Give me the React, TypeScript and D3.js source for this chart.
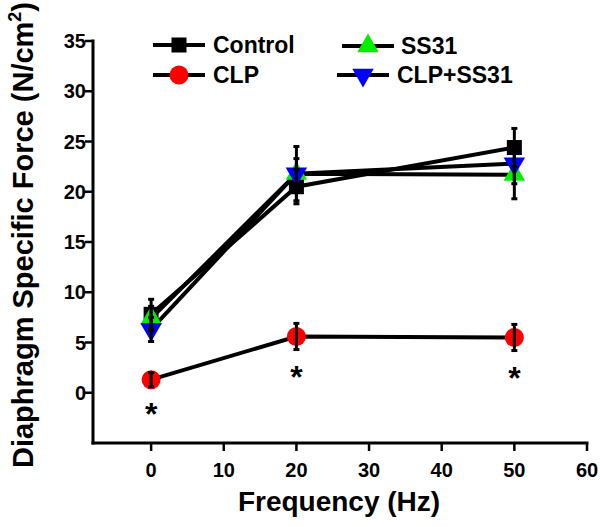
import React from "react";
import * as d3 from "d3";

const frequencies = [0, 20, 50];
const controlMean = [7.8, 20.5, 24.4];
const controlErr = [1.5, 1.7, 1.9];
const clpMean = [1.3, 5.6, 5.5];
const clpErr = [0.7, 1.3, 1.3];
const ss31Mean = [7.4, 21.8, 21.7];
const ss31Err = [1.2, 2.7, 2.4];
const clpSs31Mean = [6.3, 21.8, 22.8];
const clpSs31Err = [1.2, 1.5, 2.0];
const xTicks = [0, 10, 20, 30, 40, 50, 60];
const yTicks = [0, 5, 10, 15, 20, 25, 30, 35];
const significant = [true, true, true];

type Series = { name: string; mean: number[]; err: number[]; shape: string; color: string };
const seriesList: Series[] = [
  { name: "Control", mean: controlMean, err: controlErr, shape: "square", color: "#000000" },
  { name: "CLP", mean: clpMean, err: clpErr, shape: "circle", color: "#ff0000" },
  { name: "SS31", mean: ss31Mean, err: ss31Err, shape: "up", color: "#00ee00" },
  { name: "CLP+SS31", mean: clpSs31Mean, err: clpSs31Err, shape: "down", color: "#0000ff" },
];

const W = 600;
const H = 527;
const x = d3.scaleLinear().domain([-8, 60]).range([93, 587]);
const y = d3.scaleLinear().domain([-5, 35]).range([443, 41]);
const FONT = "'Liberation Sans', Arial, sans-serif";

function Marker({ shape, color, cx, cy }: { shape: string; color: string; cx: number; cy: number }) {
  if (shape === "square") return <rect x={cx - 7.5} y={cy - 7.5} width={15} height={15} fill={color} />;
  if (shape === "circle") return <circle cx={cx} cy={cy} r={9.5} fill={color} />;
  const sym = d3.symbol().type(d3.symbolTriangle).size(200)();
  return (
    <path d={sym || ""} fill={color} transform={`translate(${cx},${cy}) ${shape === "down" ? "rotate(180)" : ""}`} />
  );
}

export default function App() {
  const line = d3
    .line<[number, number]>()
    .x((d) => x(d[0]))
    .y((d) => y(d[1]));

  const legend = [
    { s: seriesList[0], lx: 153, ly: 45, tx: 213 },
    { s: seriesList[1], lx: 153, ly: 75, tx: 213 },
    { s: seriesList[2], lx: 342, ly: 46, tx: 401 },
    { s: seriesList[3], lx: 337, ly: 75, tx: 397 },
  ];

  return (
    <svg width={W} height={H} style={{ position: "absolute", left: 0, top: 0, background: "#fff" }} fontFamily={FONT}>
      {/* axes */}
      <line x1={x(-8)} x2={x(60)} y1={y(-5)} y2={y(-5)} stroke="#000" strokeWidth={3} strokeLinecap="square" />
      <line x1={x(-8)} x2={x(-8)} y1={y(-5)} y2={y(35)} stroke="#000" strokeWidth={3} strokeLinecap="square" />
      {xTicks.map((t) => (
        <g key={"xt" + t}>
          <line x1={x(t)} x2={x(t)} y1={y(-5)} y2={y(-5) + 8} stroke="#000" strokeWidth={2.5} />
          <text x={x(t)} y={477} textAnchor="middle" fontSize={20} fontWeight="bold">
            {t}
          </text>
        </g>
      ))}
      {yTicks.map((t) => (
        <g key={"yt" + t}>
          <line x1={x(-8) - 8} x2={x(-8)} y1={y(t)} y2={y(t)} stroke="#000" strokeWidth={2.5} />
          <text x={86} y={y(t) + 7} textAnchor="end" fontSize={20} fontWeight="bold">
            {t}
          </text>
        </g>
      ))}
      <text x={339} y={511} textAnchor="middle" fontSize={28} fontWeight="bold">
        Frequency (Hz)
      </text>
      <text transform={`translate(33,235) rotate(-90)`} textAnchor="middle" fontSize={29} fontWeight="bold">
        Diaphragm Specific Force (N/cm
        <tspan dy={-12} fontSize={18}>2</tspan>
        <tspan dy={12}>)</tspan>
      </text>

      {/* lines */}
      {seriesList.map((s) => (
        <path
          key={"l" + s.name}
          d={line(frequencies.map((f, i) => [f, s.mean[i]] as [number, number])) || ""}
          fill="none"
          stroke="#000"
          strokeWidth={4}
        />
      ))}
      {/* markers */}
      {seriesList.map((s) =>
        frequencies.map((f, i) => (
          <Marker key={"m" + s.name + i} shape={s.shape} color={s.color} cx={x(f)} cy={y(s.mean[i])} />
        ))
      )}
      {/* error bars */}
      {seriesList.map((s) =>
        frequencies.map((f, i) => (
          <g key={"e" + s.name + i}>
            <line x1={x(f)} x2={x(f)} y1={y(s.mean[i] - s.err[i])} y2={y(s.mean[i] + s.err[i])} stroke="#000" strokeWidth={3} />
            <line x1={x(f) - 3} x2={x(f) + 3} y1={y(s.mean[i] + s.err[i])} y2={y(s.mean[i] + s.err[i])} stroke="#000" strokeWidth={3} />
            <line x1={x(f) - 3} x2={x(f) + 3} y1={y(s.mean[i] - s.err[i])} y2={y(s.mean[i] - s.err[i])} stroke="#000" strokeWidth={3} />
          </g>
        ))
      )}
      {/* asterisks */}
      {frequencies.map((f, i) =>
        significant[i] ? (
          <text key={"a" + i} x={x(f)} y={y(clpMean[i] - clpErr[i]) + 38} textAnchor="middle" fontSize={32} fontWeight="bold">
            *
          </text>
        ) : null
      )}

      {/* legend */}
      {legend.map(({ s, lx, ly, tx }) => (
        <g key={"lg" + s.name}>
          <line x1={lx} x2={lx + 52} y1={ly} y2={ly} stroke="#000" strokeWidth={4} />
          <Marker shape={s.shape} color={s.color} cx={lx + 26} cy={ly} />
          <text x={tx} y={ly + 8} fontSize={23} fontWeight="bold">
            {s.name}
          </text>
        </g>
      ))}
    </svg>
  );
}
